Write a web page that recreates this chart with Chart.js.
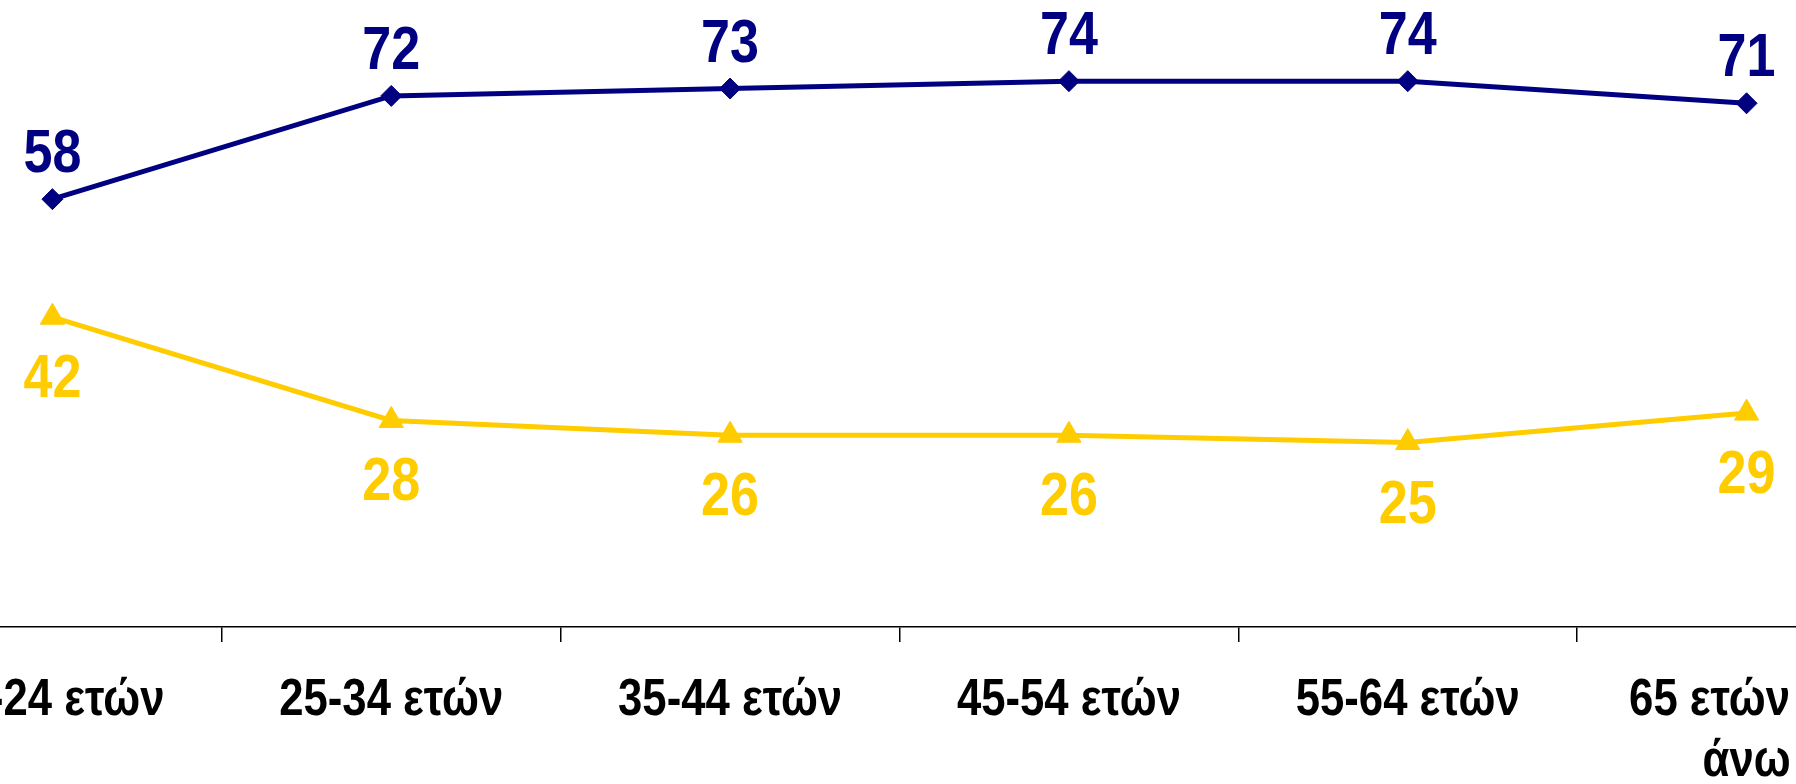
<!DOCTYPE html>
<html>
<head>
<meta charset="utf-8">
<script src="https://cdn.jsdelivr.net/npm/chart.js@4"></script>
<style>
    html, body { margin: 0; padding: 0; background: #fff; overflow: hidden; }
    body { width: 1796px; height: 784px; position: relative; }
    /* the plot is wider than the picture, so both ends are cut off */
    #wrap { position: absolute; left: -117px; top: 0; width: 2033px; height: 784px; }
</style>
</head>
<body>
<div id="wrap"><canvas id="ageChart"></canvas></div>
<script>
const ageGroups = ["18-24 ετών", "25-34 ετών", "35-44 ετών", "45-54 ετών", "55-64 ετών", ["65 ετών και", "άνω"]];
const seriesYes = [58, 72, 73, 74, 74, 71];
const seriesNo = [42, 28, 26, 26, 25, 29];

const FONT = "'Liberation Sans', Arial, sans-serif";
const NARROW = 0.84; // no narrow font installed, so squeeze the bold face

function drawNarrow(ctx, text, x, y) {
    ctx.save();
    ctx.translate(x, y);
    ctx.scale(NARROW, 1);
    ctx.fillText(text, 0, 0);
    ctx.restore();
}

// value labels and category labels (no datalabels plugin, no narrow font)
const textLayer = {
    id: "textLayer",
    afterDatasetsDraw(chart) {
        const ctx = chart.ctx;
        ctx.save();
        ctx.textAlign = "center";
        ctx.textBaseline = "alphabetic";

        ctx.font = "bold 62px " + FONT;
        chart.data.datasets.forEach((ds, i) => {
            const meta = chart.getDatasetMeta(i);
            ctx.fillStyle = ds.borderColor;
            meta.data.forEach((pt, j) => {
                drawNarrow(ctx, String(ds.data[j]), pt.x, pt.y + ds.labelShift);
            });
        });

        const xs = chart.scales.x;
        ctx.font = "bold 52px " + FONT;
        ctx.fillStyle = "#000";
        chart.data.labels.forEach((lab, i) => {
            const lines = Array.isArray(lab) ? lab : [lab];
            const x = xs.getPixelForTick(i);
            lines.forEach((line, k) => {
                drawNarrow(ctx, line, x, xs.top + 88 + k * 61);
            });
        });
        ctx.restore();
    },
};

document.addEventListener("DOMContentLoaded", function () {
    const ctx = document.getElementById("ageChart").getContext("2d");

    new Chart(ctx, {
        type: "line",
        data: {
            labels: ageGroups,
            datasets: [
                {
                    label: "Ναι",
                    data: seriesYes,
                    borderColor: "#000080",
                    backgroundColor: "#000080",
                    borderWidth: 5,
                    pointStyle: "rectRot",
                    pointRadius: 10.5,
                    pointBorderWidth: 1,
                    tension: 0,
                    clip: false,
                    labelShift: -27,
                },
                {
                    label: "Όχι",
                    data: seriesNo,
                    borderColor: "#FFCC00",
                    backgroundColor: "#FFCC00",
                    borderWidth: 5,
                    pointStyle: "triangle",
                    pointRadius: 14,
                    pointBorderWidth: 1,
                    tension: 0,
                    clip: false,
                    labelShift: 80,
                },
            ],
        },
        options: {
            responsive: true,
            maintainAspectRatio: false,
            animation: false,
            layout: { padding: 0, autoPadding: false },
            plugins: {
                legend: { display: false },
                tooltip: { enabled: false },
            },
            scales: {
                x: {
                    offset: true,
                    afterFit: (scale) => {
                        scale.height = 157;
                        scale.paddingLeft = 0;
                        scale.paddingRight = 0;
                    },
                    border: { color: "#000", width: 1.5 },
                    grid: {
                        offset: true,
                        drawOnChartArea: false,
                        drawTicks: true,
                        tickLength: 15,
                        color: "#000",
                        lineWidth: 1.5,
                    },
                    ticks: { display: false, autoSkip: false },
                },
                y: {
                    display: false,
                    min: 0,
                    max: 85,
                },
            },
        },
        plugins: [textLayer],
    });
});
</script>
</body>
</html>
